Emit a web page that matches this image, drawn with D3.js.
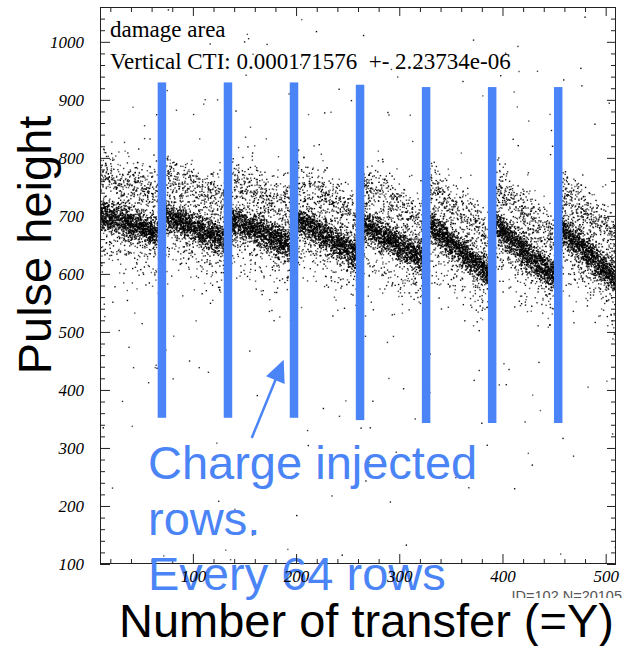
<!DOCTYPE html>
<html>
<head>
<meta charset="utf-8">
<script src="https://cdn.jsdelivr.net/npm/d3@7"></script>
<style>
  html, body { margin: 0; padding: 0; background: #fff; }
  svg { display: block; }
</style>
</head>
<body>
<svg id="chart" width="625" height="646"></svg>
<script>
// ---- data -------------------------------------------------------------
// rows where charge is injected (one every 64 rows)
const injectedRows = [70, 134, 198, 262, 326, 390, 454];
// segment bounds in number of transfers
const segmentBounds = [10, 70, 134, 198, 262, 326, 390, 454, 510];

// pulse height of the main (dense) band, four sub-bins per segment
const mainBandPH = [
  699, 691, 682, 673,
  696, 685, 673, 662,
  690, 678, 665, 653,
  688, 672, 655, 640,
  680, 664, 648, 632,
  679, 655, 631, 608,
  677, 651, 626, 601,
  672, 648, 625, 604
];
// pulse height of the upper (diffuse) band, four sub-bins per segment
const upperBandPH = [
  767, 759, 750, 741,
  762, 752, 740, 729,
  757, 745, 732, 720,
  754, 739, 722, 707,
  746, 731, 715, 699,
  745, 722, 699, 676,
  743, 718, 693, 668,
  738, 715, 692, 671
];
// entries per sub-bin in each segment
const mainCounts  = [360, 390, 390, 390, 390, 390, 390, 350];
const upperCounts = [100, 100, 100, 100, 100, 100, 100, 95];
const lowCounts   = [34, 36, 38, 40, 42, 44, 44, 42];

// sparse background: entries per pulse-height slab over the whole row range
const bgSlabEdges = [100, 200, 300, 400, 500, 600, 700, 800, 900, 1000, 1060];
const bgCounts    = [14, 16, 22, 34, 70, 40, 30, 50, 24, 8];

// annotation bars over the injected rows (pulse-height extent)
const barTopPH    = [930, 930, 930, 926, 922, 922, 922];
const barBottomPH = [352, 352, 352, 348, 343, 343, 343];

const xMajorTicks = [100, 200, 300, 400, 500];
const yMajorTicks = [100, 200, 300, 400, 500, 600, 700, 800, 900, 1000];

// ---- helpers ------------------------------------------------------------
// deterministic scatter of an entry inside its bin (integer hash -> [0,1))
function spread(i, k) {
  let h = Math.imul(i, 374761393) + Math.imul(k, 668265263) | 0;
  h = Math.imul(h ^ (h >>> 13), 1274126177);
  h ^= h >>> 16;
  h = Math.imul(h ^ (h >>> 15), 2246822519);
  h ^= h >>> 13;
  return Math.min(0.999999, Math.max(0.000001, (h >>> 0) / 4294967296));
}
// inverse normal CDF (Acklam)
function probit(p) {
  const a = [-39.69683028665376, 220.9460984245205, -275.9285104469687, 138.3577518672690, -30.66479806614716, 2.506628277459239];
  const b = [-54.47609879822406, 161.5858368580409, -155.6989798598866, 66.80131188771972, -13.28068155211027];
  const c = [-0.007784894002430293, -0.3223964580411365, -2.400758277161838, -2.549732539343734, 4.374664141464968, 2.938163982698783];
  const d = [0.007784695709041462, 0.3224671290700398, 2.445134137142996, 3.754408661907416];
  const pl = 0.02425, ph = 1 - pl;
  if (p < pl) {
    const q = Math.sqrt(-2 * Math.log(p));
    return (((((c[0]*q+c[1])*q+c[2])*q+c[3])*q+c[4])*q+c[5]) / ((((d[0]*q+d[1])*q+d[2])*q+d[3])*q+1);
  }
  if (p > ph) {
    const q = Math.sqrt(-2 * Math.log(1 - p));
    return -(((((c[0]*q+c[1])*q+c[2])*q+c[3])*q+c[4])*q+c[5]) / ((((d[0]*q+d[1])*q+d[2])*q+d[3])*q+1);
  }
  const q = p - 0.5, r = q * q;
  return (((((a[0]*r+a[1])*r+a[2])*r+a[3])*r+a[4])*r+a[5])*q / (((((b[0]*r+b[1])*r+b[2])*r+b[3])*r+b[4])*r+1);
}

// ---- build the scatter entries (SCAT-style drawing of each bin) ---------
function buildEntries() {
  const out = [];
  let idx = 1;
  const components = [
    { centres: mainBandPH,  counts: mainCounts,  offset: 0,   sigma: 14 },
    { centres: upperBandPH, counts: upperCounts, offset: 0,   sigma: 21 },
    { centres: mainBandPH,  counts: lowCounts,   offset: -45, sigma: 26 }
  ];
  for (let s = 0; s < segmentBounds.length - 1; s++) {
    const a = segmentBounds[s], b = segmentBounds[s + 1];
    const w = (b - a) / 4;
    const mids = [0, 1, 2, 3].map(j => a + w * (j + 0.5));
    const centreAt = (arr, row) => {
      const vals = arr.slice(s * 4, s * 4 + 4);
      const j = Math.min(2, Math.max(0, Math.floor((row - mids[0]) / w)));
      const t = (row - mids[j]) / w;
      return vals[j] + (vals[j + 1] - vals[j]) * t;
    };
    for (let j = 0; j < 4; j++) {
      const x0 = a + w * j;
      components.forEach(c => {
        const n = c.counts[s];
        for (let k = 0; k < n; k++) {
          const u = spread(idx, 1), v = spread(idx, 2), z = spread(idx, 3);
          idx++;
          const row = x0 + u * w;
          const ph = centreAt(c.centres, row) + c.offset + c.sigma * probit(v);
          out.push({ row, ph, shade: z });
        }
      });
    }
  }
  // background entries
  for (let s = 0; s < bgCounts.length; s++) {
    const lo = bgSlabEdges[s], hi = bgSlabEdges[s + 1];
    for (let k = 0; k < bgCounts[s]; k++) {
      const u = spread(idx, 4), v = spread(idx, 5), z = spread(idx, 3);
      idx++;
      out.push({ row: 10 + u * 500, ph: lo + v * (hi - lo), shade: z });
    }
  }
  return out.filter(d => d.row >= 10 && d.row <= 510 && d.ph >= 100 && d.ph <= 1060);
}

// ---- drawing -----------------------------------------------------------
const svg = d3.select("#chart");
const W = 625, H = 646;
const frame = { left: 100, right: 616, top: 7, bottom: 564 };

const x = d3.scaleLinear().domain([10, 510]).range([frame.left, frame.right]);
const y = d3.scaleLinear().domain([100, 1060]).range([frame.bottom, frame.top]);

svg.append("rect").attr("width", W).attr("height", H).attr("fill", "#fff");

svg.append("clipPath").attr("id", "plotClip")
  .append("rect")
  .attr("x", frame.left).attr("y", frame.top)
  .attr("width", frame.right - frame.left).attr("height", frame.bottom - frame.top);

// scatter
const entries = buildEntries();
svg.append("g").attr("clip-path", "url(#plotClip)")
  .selectAll("rect")
  .data(entries)
  .join("rect")
  .attr("x", d => x(d.row) - 0.7)
  .attr("y", d => y(d.ph) - 0.7)
  .attr("width", 1.4)
  .attr("height", 1.4)
  .attr("fill", "#000")
  .attr("fill-opacity", d => 0.6 + 0.4 * d.shade);

// axes: ticks point inward on all four sides
const minorX = d3.range(20, 511, 20).filter(v => v % 100 !== 0);
const minorY = d3.range(120, 1060, 20).filter(v => v % 100 !== 0);
const axisColor = "#222";

function styleAxis(g) {
  g.select(".domain").remove();
  g.selectAll("line").attr("stroke", axisColor).attr("stroke-width", 1);
}

// bottom
svg.append("g").attr("transform", `translate(0,${frame.bottom})`)
  .call(d3.axisBottom(x).tickValues(minorX).tickSize(-5).tickFormat(""))
  .call(styleAxis);
const xAxisMajor = svg.append("g").attr("class", "x-major").attr("transform", `translate(0,${frame.bottom})`)
  .call(d3.axisBottom(x).tickValues(xMajorTicks).tickSize(-10).tickFormat(d3.format("d")))
  .call(styleAxis);
// top
svg.append("g").attr("transform", `translate(0,${frame.top})`)
  .call(d3.axisTop(x).tickValues(minorX).tickSize(-5).tickFormat(""))
  .call(styleAxis);
svg.append("g").attr("transform", `translate(0,${frame.top})`)
  .call(d3.axisTop(x).tickValues(xMajorTicks).tickSize(-9).tickFormat(""))
  .call(styleAxis);
// left
svg.append("g").attr("transform", `translate(${frame.left},0)`)
  .call(d3.axisLeft(y).tickValues(minorY).tickSize(-5).tickFormat(""))
  .call(styleAxis);
const yAxisMajor = svg.append("g").attr("class", "y-major").attr("transform", `translate(${frame.left},0)`)
  .call(d3.axisLeft(y).tickValues(yMajorTicks).tickSize(-10).tickFormat(d3.format("d")))
  .call(styleAxis);
// right
svg.append("g").attr("transform", `translate(${frame.right},0)`)
  .call(d3.axisRight(y).tickValues(minorY).tickSize(-5).tickFormat(""))
  .call(styleAxis);
svg.append("g").attr("transform", `translate(${frame.right},0)`)
  .call(d3.axisRight(y).tickValues(yMajorTicks).tickSize(-9).tickFormat(""))
  .call(styleAxis);

// frame
svg.append("rect")
  .attr("x", frame.left + 0.5).attr("y", frame.top + 0.5)
  .attr("width", frame.right - frame.left - 1).attr("height", frame.bottom - frame.top - 1)
  .attr("fill", "none").attr("stroke", axisColor).attr("stroke-width", 1);

// statistics text inside the frame
const statsFont = "'Liberation Serif', 'Times New Roman', serif";
svg.append("text").attr("x", 110).attr("y", 37)
  .attr("font-family", statsFont).attr("font-size", 23).attr("fill", "#000")
  .text("damage area");
svg.append("text").attr("x", 110).attr("y", 68.5)
  .attr("font-family", statsFont).attr("font-size", 23).attr("fill", "#000")
  .attr("xml:space", "preserve").style("white-space", "pre")
  .text("Vertical CTI: 0.000171576  +- 2.23734e-06");

// histogram id line (partly hidden under the axis title box)
svg.append("text").attr("x", 622).attr("y", 601).attr("text-anchor", "end")
  .attr("font-family", "'Liberation Sans', Arial, sans-serif").attr("font-size", 14.5)
  .attr("fill", "#555").text("ID=102 N=20105");

// injected-row markers
const blue = "#4a84f6";
svg.append("g").selectAll("rect")
  .data(injectedRows.map((r, i) => ({ row: r, top: barTopPH[i], bottom: barBottomPH[i] })))
  .join("rect")
  .attr("x", d => x(d.row) - 4.25)
  .attr("width", 8.5)
  .attr("y", d => y(d.top))
  .attr("height", d => y(d.bottom) - y(d.top))
  .attr("fill", blue);

// arrow pointing at the third marker
const arrowFrom = { row: 157, ph: 317 }, arrowTo = { row: 188, ph: 452 };
(function drawArrow() {
  const x1 = x(arrowFrom.row), y1 = y(arrowFrom.ph), x2 = x(arrowTo.row), y2 = y(arrowTo.ph);
  const dx = x2 - x1, dy = y2 - y1, len = Math.hypot(dx, dy);
  const ux = dx / len, uy = dy / len, hl = 22, hw = 10;
  const bx = x2 - ux * hl, by = y2 - uy * hl;
  svg.append("line").attr("x1", x1).attr("y1", y1).attr("x2", bx + ux * 2).attr("y2", by + uy * 2)
    .attr("stroke", blue).attr("stroke-width", 2.5);
  svg.append("path")
    .attr("d", `M${x2},${y2} L${bx - uy * hw},${by + ux * hw} L${bx + uy * hw},${by - ux * hw} Z`)
    .attr("fill", blue);
})();

// axis titles
const sansFont = "'Liberation Sans', Arial, Helvetica, sans-serif";
svg.append("rect").attr("x", 114).attr("y", 598).attr("width", W - 114).attr("height", H - 598).attr("fill", "#fff");
svg.append("text").attr("x", 119).attr("y", 637)
  .attr("font-family", sansFont).attr("font-size", 47).attr("fill", "#000")
  .text("Number of transfer (=Y)");
svg.append("text").attr("transform", "translate(51,245) rotate(-90)")
  .attr("text-anchor", "middle")
  .attr("font-family", sansFont).attr("font-size", 47).attr("fill", "#000")
  .text("Pulse height");

// annotation text
const noteLines = ["Charge injected", "rows.", "Every 64 rows"];
svg.append("g").selectAll("text")
  .data(noteLines)
  .join("text")
  .attr("x", 148)
  .attr("y", (d, i) => 479 + i * 55.5)
  .attr("font-family", sansFont).attr("font-size", 47).attr("fill", blue)
  .text(d => d);

// tick labels (italic serif), kept on top
xAxisMajor.raise();
xAxisMajor.selectAll("text")
  .attr("y", 18).attr("dy", null)
  .attr("font-family", statsFont).attr("font-style", "italic").attr("font-size", 17).attr("fill", "#000");
yAxisMajor.raise();
yAxisMajor.selectAll("text")
  .attr("x", -16).attr("dy", "0.35em")
  .attr("font-family", statsFont).attr("font-style", "italic").attr("font-size", 17).attr("fill", "#000");
</script>
</body>
</html>
